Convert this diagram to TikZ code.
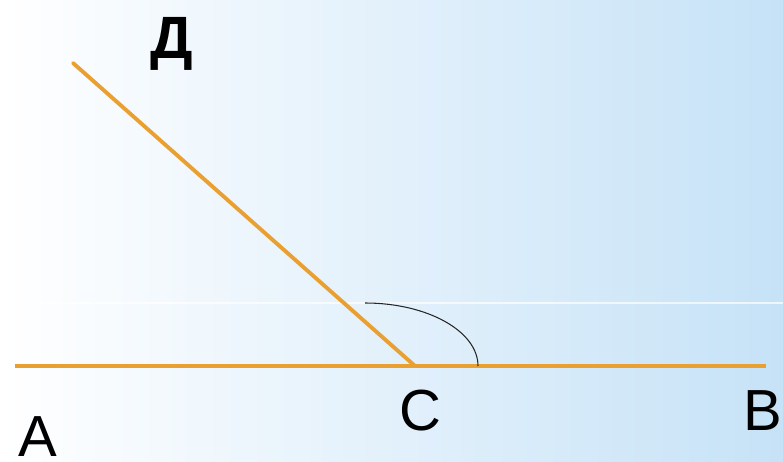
\documentclass[tikz,border=0pt]{standalone}
\usepackage{fontspec}
\setmainfont{Liberation Serif}
\setsansfont{Liberation Sans}
\usepackage{tikz}
\usetikzlibrary{positioning,calc}
\usepackage{xcolor}
\definecolor{rayorange}{RGB}{234,160,48}
\definecolor{bgblue}{RGB}{198,226,247}
\tikzset{
  ray/.style={draw=rayorange, line width=2.2pt},
  anglemark/.style={draw=black!85, line width=0.6pt},
  ptlabel/.style={font=\sffamily\fontsize{33}{33}\selectfont, inner sep=0pt},
  toplabel/.style={font=\sffamily\bfseries\fontsize{34}{34}\selectfont, inner sep=0pt}
}

\begin{document}
\begin{tikzpicture}[x=0.02cm, y=0.02cm]
% ---- background ----
\useasboundingbox (0,0) rectangle (783,462);
\shade[left color=white, right color=bgblue] (0,0) rectangle (783,462);
\draw[white, line width=0.6pt, opacity=0.7] (0,159) -- (783,159);
% ---- points ----
\coordinate (pA) at (15,96);
\coordinate (pB) at (766,96);
\coordinate (pC) at (415,96);
\coordinate (pD) at (73,399);
% ---- rays ----
\draw[ray] (pA) -- (pB);
\draw[ray, line cap=round] (pC) -- (pD);
\draw[anglemark] ($(pC)+(-50,63)$) arc[start angle=90, end angle=0, x radius=113, y radius=63];
% ---- labels ----
\node[toplabel] (labD) at (172,418) {Д};
\node[ptlabel] (labA) at (38,25) {A};
\node[ptlabel] (labC) at (420,51) {C};
\node[ptlabel] (labB) at (763,51) {B};
\end{tikzpicture}
\end{document}
